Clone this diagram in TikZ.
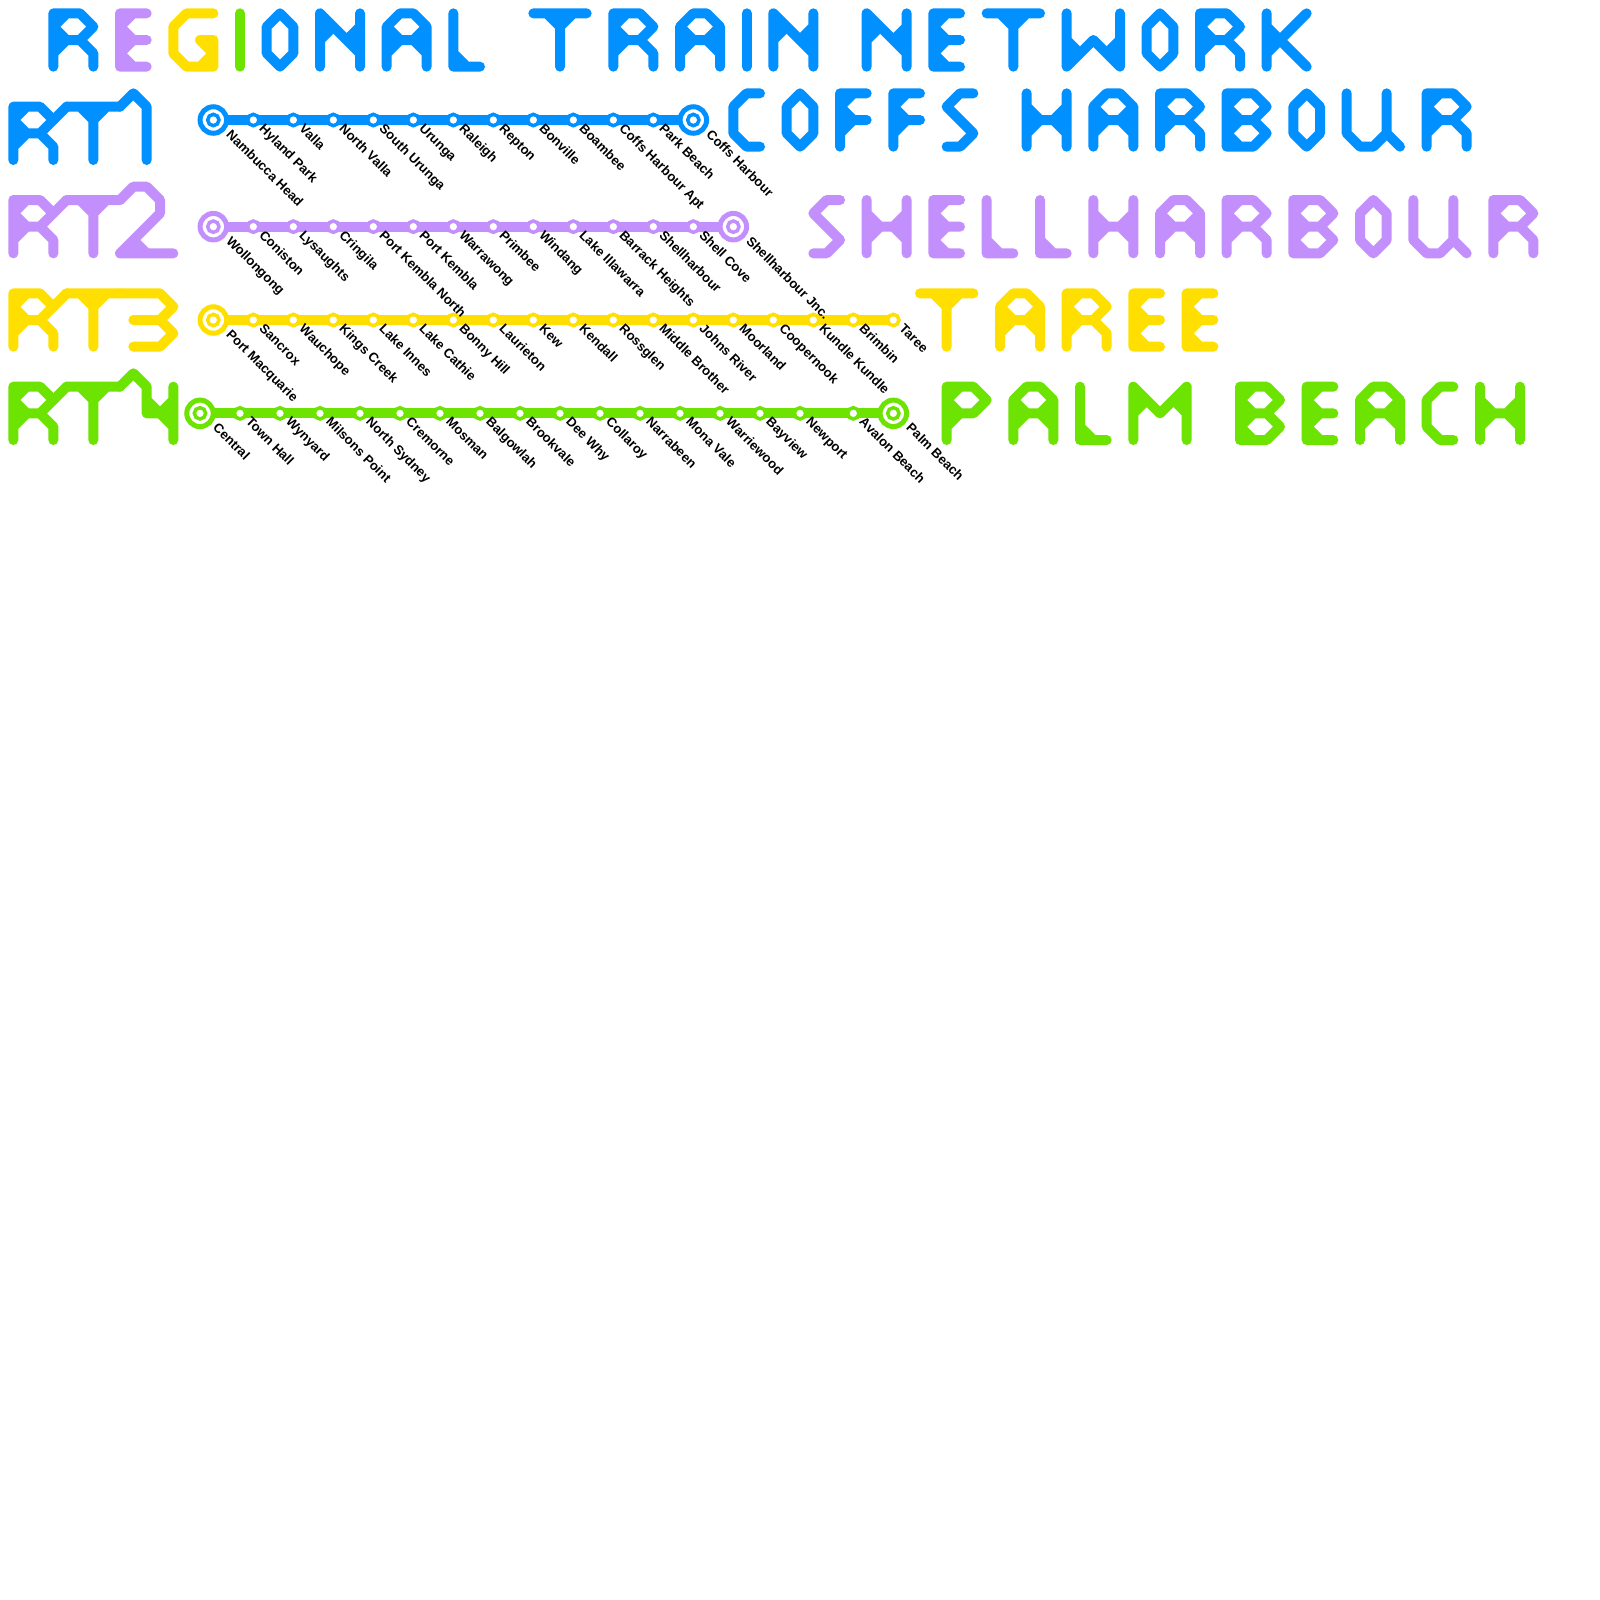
\documentclass[tikz,border=0pt]{standalone}
\usepackage{fontspec}
\setmainfont{Liberation Sans}
\usetikzlibrary{backgrounds,calc}
\definecolor{rtblue}{HTML}{0090FF}
\definecolor{rtpurple}{HTML}{C38FFC}
\definecolor{rtyellow}{HTML}{FFDF00}
\definecolor{rtgreen}{HTML}{6CE300}
% 1 grid unit = 13.333 px of 1600; the picture is 120 units square
\tikzset{
  x=0.4cm, y=-0.4cm,
  stroke/.style={line width=0.3cm, line cap=round, line join=round},
  route/.style={line width=0.3cm, draw=#1},
  stopdot/.style={circle, draw=#1, fill=white, line width=0.105cm, minimum size=0.34cm, inner sep=0pt, outer sep=0pt},
  termring/.style={circle, draw=#1, fill=none, line width=0.15cm, minimum size=0.795cm, inner sep=0pt, outer sep=0pt},
  termbg/.style={circle, fill=white, minimum size=0.9cm, inner sep=0pt, outer sep=0pt},
  stoplabel/.style={font=\fontsize{11.2pt}{11.2pt}\bfseries, text=black, anchor=base west, rotate=-45, inner sep=0pt, outer sep=0pt},
  gA/.pic={\fill (0,1)--(1,2)--(0,3)--cycle (3,1)--(2,2)--(3,3)--cycle;
    \draw[stroke] (0,1)--(1,0)--(2,0)--(3,1)--(2,2)--(1,2)--cycle (0,1)--(0,4) (3,1)--(3,4) (1,2)--(0,3) (2,2)--(3,3);},
  gB/.pic={\fill (0,0)--(1,0)--(0,1)--cycle (0,1)--(1,2)--(0,3)--cycle (0,3)--(1,4)--(0,4)--cycle;
    \draw[stroke] (0,0)--(2,0)--(3,1)--(2,2)--(3,3)--(2,4)--(0,4)--cycle (2,2)--(1,2)--(0,1)--(1,0) (1,2)--(0,3)--(1,4);},
  gC/.pic={\draw[stroke] (2,0)--(1,0)--(0,1)--(0,3)--(1,4)--(2,4);},
  gE/.pic={\fill (0,0)--(1,0)--(0,1)--cycle (0,1)--(1,2)--(0,3)--cycle (0,3)--(1,4)--(0,4)--cycle;
    \draw[stroke] (2,0)--(0,0)--(0,4)--(2,4) (0,2)--(2,2) (1,0)--(0,1)--(1,2)--(0,3)--(1,4);},
  gF/.pic={\fill (0,0)--(1,0)--(0,1)--cycle (0,1)--(1,2)--(0,3)--cycle;
    \draw[stroke] (2,0)--(0,0)--(0,4) (2,2)--(0,2) (1,0)--(0,1)--(1,2)--(0,3);},
  gG/.pic={\fill (2,2)--(3,2)--(3,3)--cycle (2,4)--(3,4)--(3,3)--cycle;
    \draw[stroke] (3,0)--(1,0)--(0,1)--(0,3)--(1,4)--(3,4)--(3,2)--(2,2)--(3,3)--(2,4);},
  gH/.pic={\fill (0,1)--(1,2)--(0,3)--cycle (3,1)--(2,2)--(3,3)--cycle;
    \draw[stroke] (0,0)--(0,4) (3,0)--(3,4) (0,1)--(1,2)--(2,2)--(3,1) (0,3)--(1,2) (2,2)--(3,3);},
  gI/.pic={\draw[stroke] (0,0)--(0,4);},
  gK/.pic={\fill (0,1)--(1,2)--(0,3)--cycle;
    \draw[stroke] (0,0)--(0,4) (0,1)--(1,2)--(3,0) (0,3)--(1,2)--(3,4);},
  gL/.pic={\fill (0,3)--(1,4)--(0,4)--cycle;
    \draw[stroke] (0,0)--(0,4)--(2,4) (0,3)--(1,4);},
  gM/.pic={\fill (0,0)--(1,1)--(0,2)--cycle (4,0)--(3,1)--(4,2)--cycle;
    \draw[stroke] (0,4)--(0,0)--(2,2)--(4,0)--(4,4) (0,2)--(1,1) (4,2)--(3,1);},
  gN/.pic={\fill (0,0)--(1,1)--(0,2)--cycle (3,1)--(2,2)--(3,3)--cycle;
    \draw[stroke] (0,4)--(0,0)--(3,3) (3,0)--(3,4) (0,2)--(1,1) (3,1)--(2,2);},
  gO/.pic={\draw[stroke] (1,0)--(2,1)--(2,3)--(1,4)--(0,3)--(0,1)--cycle;},
  gP/.pic={\fill (0,0)--(1,0)--(0,1)--cycle (0,1)--(1,2)--(0,3)--cycle;
    \draw[stroke] (0,0)--(2,0)--(3,1)--(2,2)--(1,2)--(0,1)--(1,0) (0,0)--(0,4) (1,2)--(0,3);},
  gR/.pic={\fill (0,0)--(1,0)--(0,1)--cycle (0,1)--(1,2)--(0,3)--cycle;
    \draw[stroke] (0,0)--(2,0)--(3,1)--(2,2)--(1,2)--(0,1)--(1,0) (0,0)--(0,4) (1,2)--(0,3) (2,2)--(3,3)--(3,4);},
  gS/.pic={\draw[stroke] (2,0)--(1,0)--(0,1)--(2,3)--(1,4)--(0,4);},
  gT/.pic={\fill (1,0)--(2,1)--(3,0)--cycle;
    \draw[stroke] (0,0)--(4,0) (2,0)--(2,4) (1,0)--(2,1)--(3,0);},
  gU/.pic={\draw[stroke] (0,0)--(0,3)--(1,4)--(2,4)--(3,3)--(3,0) (3,3)--(4,4);},
  gW/.pic={\fill (0,2)--(1,3)--(0,4)--cycle (4,2)--(3,3)--(4,4)--cycle;
    \draw[stroke] (0,4)--(0,0) (4,0)--(4,4) (0,2)--(1,3)--(2,2)--(3,3)--(4,2) (0,4)--(2,2)--(4,4);},
  gRT/.pic={\draw[stroke] (3,1)--(4,0);\pic{gR};\pic at (4,0) {gT};},
  gOne/.pic={\draw[stroke] (8,0)--(9,-1)--(10,0)--(10,4);},
  gTwo/.pic={\fill (8,4)--(9,3)--(10,4)--cycle;
    \draw[stroke] (8,0)--(9,-1)--(10,-1)--(11,0)--(11,1)--(8,4)--(12,4) (9,3)--(10,4);},
  gThree/.pic={\draw[stroke] (8,0)--(11,0)--(12,1)--(11,2)--(12,3)--(11,4)--(9,4) (9,2)--(11,2);},
  gFour/.pic={\fill (10,1)--(11,2)--(10,2)--cycle (12,1)--(11,2)--(12,3)--cycle;
    \draw[stroke] (8,0)--(9,-1)--(10,0)--(10,2)--(11,2)--(12,3) (10,1)--(11,2)--(12,1) (12,0)--(12,4);},
}
% \glyphs{x}{y}{colour}{G1/adv1,G2/adv2,...}: each letter is set at x, then x grows by its advance
\newcount\penx
\newcommand{\glyphs}[4]{%
  \penx=#1\relax
  \foreach \g/\a in {#4}{%
    \pic[#3] at (\the\penx,#2) {g\g};%
    \global\advance\penx by \a\relax
  }%
}
% \stops{prefix}{y}{colour}{last terminal index}{x/Name,...}: the stops of a line, every one a named node
\newcommand{\stops}[5]{%
  \foreach \px/\nm [count=\i] in {#5}{%
    \node[stopdot=#3] (#1\i) at (\px,#2) {};
    \def\lx{0.40}\def\ly{0.72}%
    \ifnum\i=1 \def\lx{0.93}\def\ly{1.15}\fi
    \ifnum\i=#4 \def\lx{0.93}\def\ly{1.15}\fi
    \node[stoplabel] (#1l\i) at ($(#1\i)+(\lx,\ly)$) {\nm};
  }%
}
\begin{document}
\begin{tikzpicture}
\useasboundingbox (0,0) rectangle (120,120);
\begin{scope}[on background layer]\fill[white] (0,0) rectangle (120,120);\end{scope}

% title
\glyphs{4}{1}{rtblue}{R/5}
\glyphs{9}{1}{rtpurple}{E/4}
\glyphs{13}{1}{rtyellow}{G/5}
\glyphs{18}{1}{rtgreen}{I/2}
\glyphs{20}{1}{rtblue}{O/4,N/5,A/5,L/6,T/6,R/5,A/5,I/2,N/7,N/5,E/4,T/6,W/6,O/4,R/5,K/5}

% route codes
\pic[rtblue] at (1,8) {gRT}; \pic[rtblue] at (1,8) {gOne};
\pic[rtpurple] at (1,15) {gRT}; \pic[rtpurple] at (1,15) {gTwo};
\pic[rtyellow] at (1,22) {gRT}; \pic[rtyellow] at (1,22) {gThree};
\pic[rtgreen] at (1,29) {gRT}; \pic[rtgreen] at (1,29) {gFour};

% destinations
\glyphs{55}{7}{rtblue}{C/4,O/4,F/4,F/4,S/6,H/5,A/5,R/5,B/5,O/4,U/6,R/5}
\glyphs{61}{15}{rtpurple}{S/4,H/5,E/4,L/4,L/4,H/5,A/5,R/5,B/5,O/4,U/6,R/5}
\glyphs{69}{22}{rtyellow}{T/6,A/5,R/5,E/4,E/4}
\glyphs{71}{29}{rtgreen}{P/5,A/5,L/4,M/8,B/5,E/4,A/5,C/4,H/5}

% stops
\stops{a}{9}{rtblue}{13}{16/Nambucca Head,19/Hyland Park,22/Valla,25/North Valla,28/South Urunga,31/Urunga,34/Raleigh,37/Repton,40/Bonville,43/Boambee,46/Coffs Harbour Apt,49/Park Beach,52/Coffs Harbour}
\stops{b}{17}{rtpurple}{14}{16/Wollongong,19/Coniston,22/Lysaughts,25/Cringila,28/Port Kembla North,31/Port Kembla,34/Warrawong,37/Primbee,40/Windang,43/Lake Illawarra,46/Barrack Heights,49/Shellharbour,52/Shell Cove,55/Shellharbour Jnc.}
\stops{c}{24}{rtyellow}{1}{16/Port Macquarie,19/Sancrox,22/Wauchope,25/Kings Creek,28/Lake Innes,31/Lake Cathie,34/Bonny Hill,37/Laurieton,40/Kew,43/Kendall,46/Rossglen,49/Middle Brother,52/Johns River,55/Moorland,58/Coopernook,61/Kundle Kundle,64/Brimbin,67/Taree}
\stops{d}{31}{rtgreen}{18}{15/Central,18/Town Hall,21/Wynyard,24/Milsons Point,27/North Sydney,30/Cremorne,33/Mosman,36/Balgowlah,39/Brookvale,42/Dee Why,45/Collaroy,48/Narrabeen,51/Mona Vale,54/Warriewood,57/Bayview,60/Newport,64/Avalon Beach,67/Palm Beach}

% lines and terminal rings
\begin{scope}[on background layer]
\foreach \p/\l/\c in {a/13/rtblue,b/14/rtpurple,c/18/rtyellow,d/18/rtgreen}{
  \draw[route=\c] (\p1.center) -- (\p\l.center);
}
\foreach \t/\c in {a1/rtblue,a13/rtblue,b1/rtpurple,b14/rtpurple,c1/rtyellow,d1/rtgreen,d18/rtgreen}{
  \node[termbg] at (\t.center) {};
  \node[termring=\c] at (\t.center) {};
}
\end{scope}
\end{tikzpicture}
\end{document}
